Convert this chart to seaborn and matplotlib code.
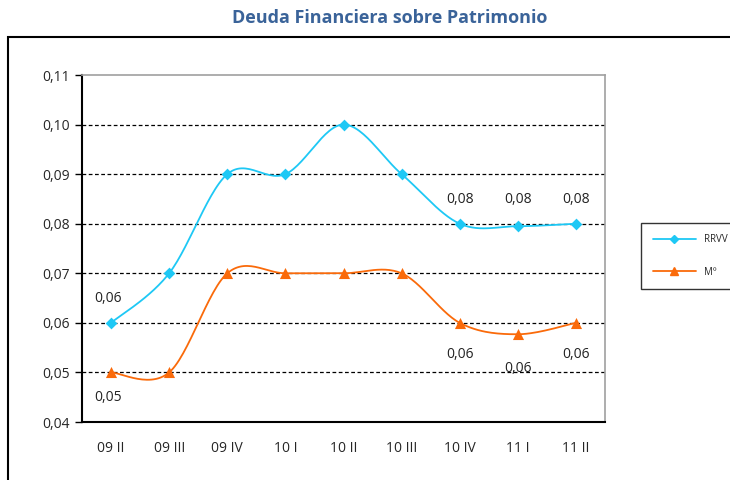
import numpy as np
import pandas as pd
import matplotlib
matplotlib.use("Agg")
import matplotlib.pyplot as plt
import seaborn as sns
from matplotlib.patches import Rectangle

periodos = ['09 II', '09 III', '09 IV', '10 I', '10 II', '10 III', '10 IV', '11 I', '11 II']
rrvv = [0.06, 0.07, 0.09, 0.09, 0.10, 0.09, 0.08, 0.0795, 0.08]
mo = [0.05, 0.05, 0.07, 0.07, 0.07, 0.07, 0.06, 0.0577, 0.06]
yticks = [0.04, 0.05, 0.06, 0.07, 0.08, 0.09, 0.10, 0.11]

# etiquetas visibles: (indice, texto, desplazamiento en px)
etiq_rrvv = [(0, '0,06', 24), (6, '0,08', 24), (7, '0,08', 27), (8, '0,08', 24)]
etiq_mo = [(0, '0,05', -25), (6, '0,06', -32), (7, '0,06', -34), (8, '0,06', -32)]

col_rrvv = '#1EC8F5'
col_mo = '#FA6A0A'


def suavizar(y, n=30):
    # curva tipo Excel (Bezier con tangentes de Catmull-Rom)
    y = np.asarray(y, dtype=float)
    x = np.arange(len(y), dtype=float)
    pts = np.column_stack([x, y])
    ext = np.vstack([pts[0], pts, pts[-1]])
    out = []
    for i in range(len(pts) - 1):
        p0, p1, p2, p3 = ext[i], ext[i + 1], ext[i + 2], ext[i + 3]
        c1 = p1 + (p2 - p0) / 6
        c2 = p2 - (p3 - p1) / 6
        t = np.linspace(0, 1, n)[:, None]
        seg = (1 - t) ** 3 * p1 + 3 * (1 - t) ** 2 * t * c1 + 3 * (1 - t) * t ** 2 * c2 + t ** 3 * p2
        out.append(seg if i == 0 else seg[1:])
    out = np.vstack(out)
    return out[:, 0], out[:, 1]


sns.set_theme(style="white")
plt.rcParams['font.family'] = ['Open Sans', 'DejaVu Sans']

fig = plt.figure(figsize=(7.3, 4.8), dpi=100)
ax = fig.add_axes([82 / 730, 1 - 422 / 480, (605 - 82) / 730, (422 - 75) / 480])

handles = []
for serie, nombre, col, mk, ms in [(rrvv, 'RRVV', col_rrvv, 'D', 6), (mo, 'Mº', col_mo, '^', 8)]:
    xs, ys = suavizar(serie)
    df_curva = pd.DataFrame({'x': xs, 'y': ys})
    sns.lineplot(data=df_curva, x='x', y='y', ax=ax, color=col, linewidth=1.3, sort=False, legend=False)
    df_pts = pd.DataFrame({'x': np.arange(len(serie)), 'y': serie})
    sns.scatterplot(data=df_pts, x='x', y='y', ax=ax, color=col, marker=mk, s=ms ** 2,
                    edgecolor=col, linewidth=0, zorder=5, legend=False)
    h, = ax.plot([], [], color=col, marker=mk, markersize=ms - 2, linewidth=1.3)
    handles.append((h, nombre))

if ax.get_legend() is not None:
    ax.get_legend().remove()

for serie, etiq in [(rrvv, etiq_rrvv), (mo, etiq_mo)]:
    for i, txt, dy in etiq:
        ax.annotate(txt, (i, serie[i]), xytext=(-3 if i == 0 else 0, dy), textcoords='offset pixels',
                    ha='center', va='center', fontsize=10, color='#222222')

ax.set_xlim(-0.5, len(periodos) - 0.5)
ax.set_ylim(0.04, 0.11)
ax.set_yticks(yticks)
ax.set_yticklabels([f'{v:.2f}'.replace('.', ',') for v in yticks], fontsize=10)
ax.set_xticks(range(len(periodos)))
ax.set_xticklabels(periodos, fontsize=10)
ax.set_xticks(np.arange(-0.5, len(periodos), 1), minor=True)
ax.tick_params(axis='x', which='major', length=0, pad=14)
ax.tick_params(axis='x', which='minor', length=5, width=1, color='black', direction='out')
ax.tick_params(axis='y', length=5, width=1, color='black', direction='out', left=True)
ax.set_xlabel('')
ax.set_ylabel('')

for v in yticks[1:-1]:
    ax.axhline(v, color='black', linestyle=(0, (3, 2)), linewidth=0.9, zorder=1)

ax.spines['left'].set_color('black')
ax.spines['left'].set_linewidth(1.5)
ax.spines['bottom'].set_color('black')
ax.spines['bottom'].set_linewidth(1.5)
ax.spines['top'].set_color('#A0A0A0')
ax.spines['right'].set_color('#A0A0A0')
ax.spines['top'].set_linewidth(1.2)
ax.spines['right'].set_linewidth(1.2)

leg = fig.legend([h for h, _ in handles], [n for _, n in handles], loc='center left',
                 bbox_to_anchor=(636 / 730, 1 - 256 / 480), fontsize=7,
                 frameon=True, fancybox=False, borderpad=1.2, labelspacing=2.2, handlelength=4.5)
leg.get_frame().set_edgecolor('black')
leg.get_frame().set_linewidth(1)

fig.patches.append(Rectangle((8 / 730, -0.1), 1.0, 1 - 37 / 480 + 0.1, transform=fig.transFigure,
                             fill=False, edgecolor='black', linewidth=1.5))

fig.text(390 / 730, 1 - 18 / 480, 'Deuda Financiera sobre Patrimonio', ha='center', va='center',
         fontsize=13, fontweight='bold', color='#3A6399')

fig.savefig('out.png', dpi=100)
